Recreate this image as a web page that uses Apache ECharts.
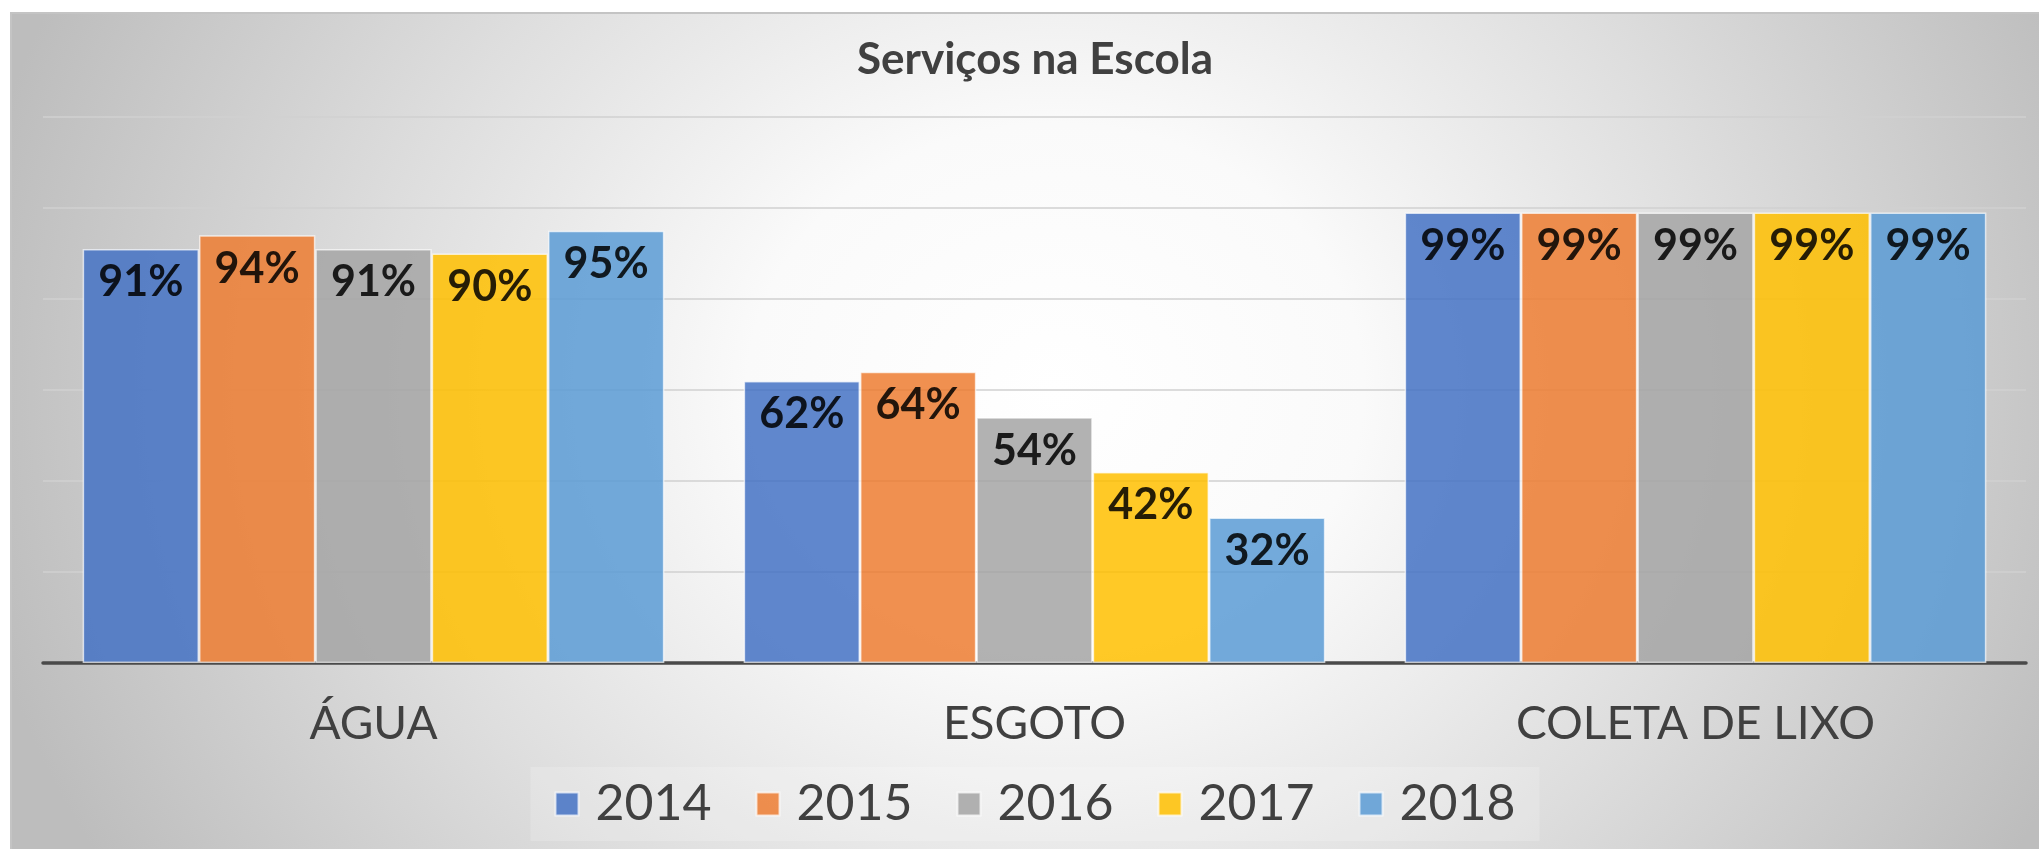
<!DOCTYPE html>
<html lang="pt">
<head>
    <meta charset="UTF-8">
    <title>Serviços na Escola</title>
    <script src="https://cdn.jsdelivr.net/npm/echarts/dist/echarts.min.js"></script>
    <style>
        html, body { margin: 0; padding: 0; background: #fff; overflow: hidden; width: 2039px; height: 849px; }
        #myBar {
            position: absolute; left: 10px; top: 12px; width: 2048px; height: 837px;
            box-sizing: border-box;
            border-top: 2px solid #c4c4c4; border-left: 2px solid #c4c4c4;
            background: radial-gradient(ellipse 1100px 950px at 51% 45%, #ffffff 0%, #fafafa 28%, #dedede 62%, #bdbdbd 100%);
        }
    </style>
</head>
<body>
    <div id="myBar"></div>
    <script type="text/javascript">
        var categories = ['ÁGUA', 'ESGOTO', 'COLETA DE LIXO'];
        var years = ['2014', '2015', '2016', '2017', '2018'];
        // percentual por ano (ÁGUA, ESGOTO, COLETA DE LIXO)
        var v2014 = [91, 62, 99];
        var v2015 = [94, 64, 99];
        var v2016 = [91, 54, 99];
        var v2017 = [90, 42, 99];
        var v2018 = [95, 32, 99];
        var yTicks = [0, 20, 40, 60, 80, 100, 120];

        var values = [v2014, v2015, v2016, v2017, v2018];
        var colors = ['#4472C4', '#ED7D31', '#A5A5A5', '#FFC000', '#5B9BD5'];
        var font = 'Lato, "Noto Sans", sans-serif';

        var myEcharts = echarts.init(document.getElementById('myBar'));

        var series = [];
        for (var i = 0; i < years.length; i++) {
            series.push({
                name: years[i],
                type: 'bar',
                data: values[i],
                barGap: '0%',
                barCategoryGap: '12%',
                itemStyle: {
                    color: colors[i],
                    opacity: 0.85,
                    borderColor: 'rgba(255,255,255,0.8)',
                    borderWidth: 1.5
                },
                label: {
                    show: true,
                    position: 'insideTop',
                    distance: 12,
                    formatter: '{c}%',
                    color: '#000',
                    fontFamily: font,
                    fontWeight: 'bold',
                    fontSize: 43
                }
            });
        }

        var option = {
            animation: false,
            title: {
                text: 'Serviços na Escola',
                left: 'center',
                top: 24,
                padding: 0,
                textStyle: {
                    color: '#404040',
                    fontFamily: font,
                    fontWeight: 'bold',
                    fontSize: 44
                }
            },
            legend: {
                data: years,
                left: 'center',
                top: 753,
                padding: [12, 24],
                itemGap: 44,
                itemWidth: 23,
                itemHeight: 23,
                icon: 'rect',
                backgroundColor: 'rgba(255,255,255,0.18)',
                textStyle: {
                    color: '#404040',
                    fontFamily: font,
                    fontSize: 50,
                    padding: [0, 0, 0, 12]
                }
            },
            grid: {
                left: 31,
                right: 32,
                top: 103,
                bottom: 186,
                containLabel: false
            },
            xAxis: {
                type: 'category',
                data: categories,
                axisTick: { show: false },
                axisLine: { lineStyle: { color: '#4a4a4a', width: 3.5 } },
                axisLabel: {
                    margin: 38,
                    color: '#404040',
                    fontFamily: font,
                    fontSize: 46
                }
            },
            yAxis: {
                type: 'value',
                min: yTicks[0],
                max: yTicks[yTicks.length - 1],
                interval: yTicks[1] - yTicks[0],
                axisLabel: { show: false },
                axisLine: { show: false },
                axisTick: { show: false },
                splitLine: { lineStyle: { color: '#d0d0d0', width: 1.5 } }
            },
            series: series
        };

        myEcharts.setOption(option);
    </script>
</body>
</html>
